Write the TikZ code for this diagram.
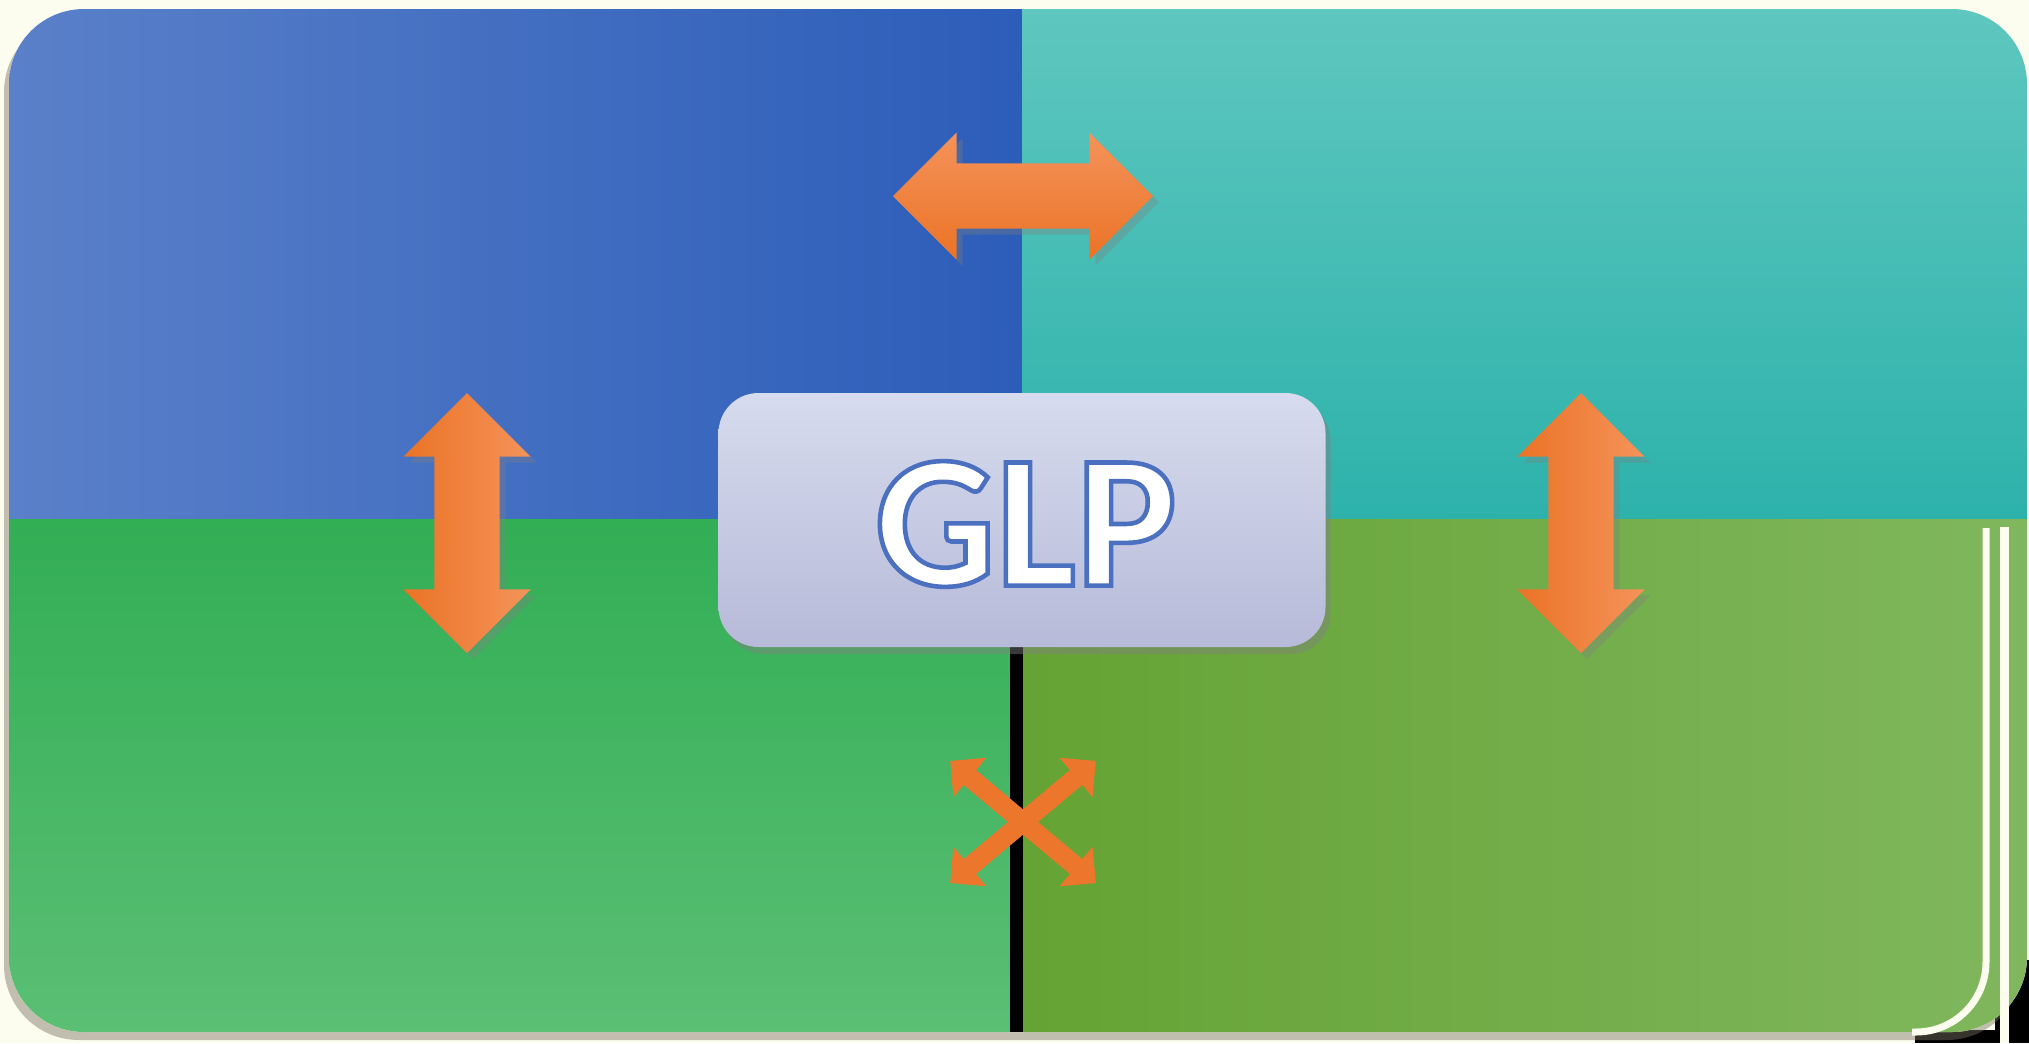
\documentclass[tikz,border=0pt]{standalone}
\usepackage{fontspec}
\setmainfont{Carlito}
\usetikzlibrary{shapes.arrows, shadows, positioning}
\definecolor{cream}{HTML}{FCFDEF}
\definecolor{shadowbrown}{HTML}{7A7264}
\definecolor{tlleft}{HTML}{5A80C9}
\definecolor{tlright}{HTML}{2C5DB9}
\definecolor{trtop}{HTML}{5EC7BF}
\definecolor{trbottom}{HTML}{2DB2AB}
\definecolor{bltop}{HTML}{32AE55}
\definecolor{blbottom}{HTML}{5BBF74}
\definecolor{brleft}{HTML}{65A334}
\definecolor{brright}{HTML}{80B75E}
\definecolor{boxtop}{HTML}{D6DBEE}
\definecolor{boxbottom}{HTML}{B7BAD8}
\definecolor{arrowlight}{HTML}{F4935A}
\definecolor{arrowdark}{HTML}{EB7326}
% white letters with a blue rim (fill and stroke text mode)
\newcommand{\rimtext}[1]{\special{pdf:literal direct q 2 Tr 1.3 w 1 1 1 rg 0.29 0.44 0.75 RG}#1\special{pdf:literal direct Q}}

\begin{document}
\begin{tikzpicture}[x=0.1mm, y=-0.1mm,
  dblarrow/.style={double arrow, double arrow head extend=3.1mm,
    inner xsep=0pt, inner ysep=3.2mm, minimum height=26mm,
    drop shadow={shadow xshift=0.6mm, shadow yshift=-0.6mm, opacity=0.35}},
  crossarrow/.style={double arrow, double arrow head extend=1.6mm,
    inner xsep=0pt, inner ysep=0.9mm, minimum height=19mm, fill=arrowdark!90!arrowlight}]
\useasboundingbox (0,0) rectangle (2029,1043);
\fill[cream] (0,0) rectangle (2029,1043);

% dark patch at the lower right corner
\fill[black] (1915,1030) rectangle (2029,1043);
\fill[black] (1995,960) rectangle (2029,1043);

% outer frame with its shadow
\path[fill=cream, rounded corners=7.5mm,
  drop shadow={shadow xshift=-0.5mm, shadow yshift=-0.8mm, opacity=0.45, fill=shadowbrown}]
  (9,9) rectangle (2027,1032);

% Quadrants
\begin{scope}
\clip[rounded corners=7.5mm] (9,9) rectangle (2027,1032);
\path[left color=tlleft, right color=tlright] (9,9) rectangle (1022,519);
\path[top color=trtop, bottom color=trbottom] (1022,9) rectangle (2027,519);
\path[top color=bltop, bottom color=blbottom] (9,519) rectangle (1010,1032);
\path[left color=brleft, right color=brright] (1023,519) rectangle (2027,1032);
\fill[black] (1010,519) rectangle (1023,1032);
\end{scope}

% light strokes on the right edge
\draw[cream, line width=0.7mm, rounded corners=7mm] (1986,528) -- (1986,1032) -- (1912,1032);
\draw[cream, line width=0.9mm] (2004,527) -- (2004,1043);

% Arrows
\node[dblarrow, top color=arrowlight, bottom color=arrowdark] (arrowtop) at (1023,196) {};
\node[dblarrow, rotate=-90, left color=arrowdark, right color=arrowlight] (arrowleft) at (467,523) {};
\node[dblarrow, rotate=-90, left color=arrowdark, right color=arrowlight] (arrowright) at (1581,523) {};
\node[crossarrow, rotate=40] (crossa) at (1023,822) {};
\node[crossarrow, rotate=-40] (crossb) at (1023,822) {};

% Centre box
\node[rectangle, rounded corners=4mm, minimum width=60.7mm, minimum height=25.4mm,
  top color=boxtop, bottom color=boxbottom,
  drop shadow={shadow xshift=0.5mm, shadow yshift=-0.7mm, opacity=0.45}] (core) at (1022,520) {};
\node[font=\fontsize{54}{60}\selectfont\bfseries, inner sep=0pt] (label) at (1026,524) {\rimtext{GLP}};
\end{tikzpicture}
\end{document}
